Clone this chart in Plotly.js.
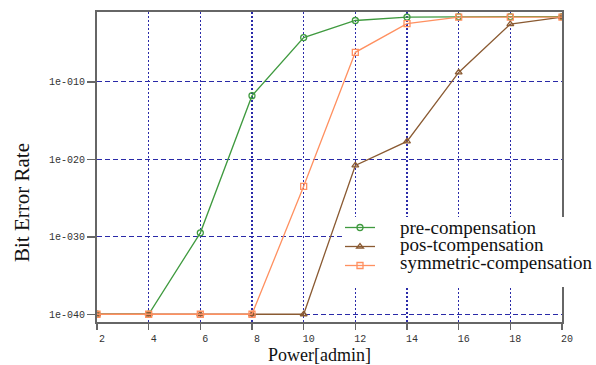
<!DOCTYPE html>
<html>
<head>
<meta charset="utf-8">
<script src="https://cdn.plot.ly/plotly-3.0.1.min.js"></script>
<style>html,body{margin:0;padding:0;background:#fff;}#chart{width:596px;height:365px;}</style>
</head>
<body>
<div id="chart"></div>
<script>
// Data (x = Power[admin], y = Bit Error Rate)
const power = [2, 4, 6, 8, 10, 12, 14, 16, 18, 20];
const preCompensation = [1e-40, 1e-40, 3.2e-30, 1.6e-12, 5e-5, 8e-3, 2.2e-2, 2.5e-2, 2.5e-2, 2.5e-2];
const postCompensation = [1e-40, 1e-40, 1e-40, 1e-40, 1e-40, 1.6e-21, 2e-18, 1.6e-9, 2.8e-3, 2.2e-2];
const symmetricCompensation = [1e-40, 1e-40, 1e-40, 1e-40, 3.2e-24, 6.3e-7, 3.2e-3, 2.2e-2, 2.2e-2, 2.2e-2];
const seriesNames = ['pre-compensation', 'pos-tcompensation', 'symmetric-compensation'];
const xTickVals = [2, 4, 6, 8, 10, 12, 14, 16, 18, 20];
const yTickVals = [1e-40, 1e-30, 1e-20, 1e-10];
const yTickText = ['1e-040', '1e-030', '1e-020', '1e-010'];

const colors = ['#3f9a3f', '#8a5a32', '#ff9060'];
const symbols = ['circle-open', 'triangle-up-open', 'square-open'];
const series = [preCompensation, postCompensation, symmetricCompensation];

const traces = series.map((ys, i) => ({
  x: power, y: ys, name: seriesNames[i], mode: 'lines+markers',
  line: {color: colors[i], width: 1.3},
  marker: {symbol: symbols[i], size: 6, color: colors[i], line: {width: 1.3}}
}));

// pixel helpers for the plot area (l=97, r=562, t=12, b=322)
const px = x => (x - 97) / 465;
const py = y => (322 - y) / 310;

const legendRows = [228, 245.7, 263.3];
const annotations = seriesNames.map((n, i) => ({
  text: n, xref: 'paper', yref: 'paper', x: px(398), y: py(legendRows[i] - 1),
  xanchor: 'left', yanchor: 'middle', showarrow: false,
  font: {family: 'Liberation Serif', size: 19, color: '#111'}
}));
annotations.push(
  {text: 'Power[admin]', xref: 'paper', yref: 'paper', x: px(319), y: py(355),
   xanchor: 'center', yanchor: 'middle', showarrow: false,
   font: {family: 'Liberation Serif', size: 18, color: '#111'}},
  {text: 'Bit Error Rate', xref: 'paper', yref: 'paper', x: px(22), y: py(203),
   xanchor: 'center', yanchor: 'middle', textangle: -90, showarrow: false,
   font: {family: 'Liberation Serif', size: 21, color: '#111'}}
);

const gridColor = '#2a2aa8';
const layout = {
  width: 596, height: 365,
  margin: {l: 97, r: 34, t: 12, b: 43},
  paper_bgcolor: '#fff', plot_bgcolor: '#fff',
  showlegend: true,
  legend: {x: px(340), xanchor: 'left', y: py(213), yanchor: 'top',
           bgcolor: 'rgba(0,0,0,0)',
           font: {family: 'Liberation Serif', size: 1, color: 'rgba(0,0,0,0)'},
           tracegroupgap: 0},
  shapes: [
    {type: 'rect', xref: 'paper', yref: 'paper', x0: px(343), x1: px(596), y0: py(287), y1: py(217),
     fillcolor: '#fff', line: {width: 0}, layer: 'above'}
  ],
  xaxis: {range: [2, 20], tickvals: xTickVals, ticktext: xTickVals.map(String),
          showgrid: true, gridcolor: gridColor, griddash: '2px,2px', gridwidth: 1.2,
          showline: true, linecolor: '#666', linewidth: 2, mirror: true,
          ticks: 'outside', ticklen: 6, tickcolor: '#666', tickwidth: 1.5,
          ticklabelshift: 5,
          tickfont: {family: 'Liberation Mono', size: 10, color: '#333'},
          zeroline: false},
  yaxis: {type: 'log', range: [-41, -1], tickvals: yTickVals, ticktext: yTickText,
          showgrid: true, gridcolor: gridColor, griddash: '5px,3px', gridwidth: 1.2,
          showline: true, linecolor: '#666', linewidth: 2, mirror: true,
          ticks: 'outside', ticklen: 8, tickcolor: '#666', tickwidth: 1.5,
          tickfont: {family: 'Liberation Mono', size: 10, color: '#333'},
          zeroline: false},
  annotations: annotations
};

Plotly.newPlot('chart', traces, layout, {displayModeBar: false, staticPlot: true});
</script>
</body>
</html>
